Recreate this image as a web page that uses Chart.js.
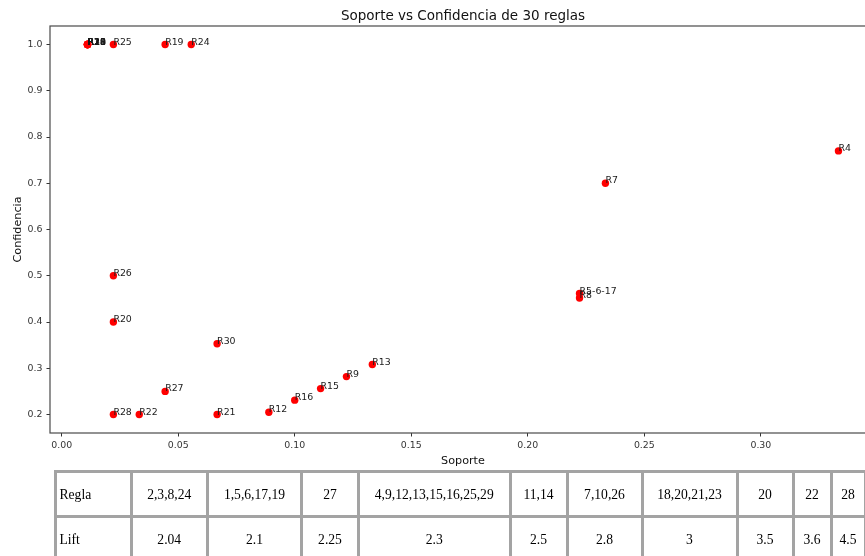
<!DOCTYPE html>
<html>
<head>
<meta charset="utf-8">
<script src="https://cdn.jsdelivr.net/npm/chart.js@4/dist/chart.umd.min.js"></script>
<style>
  html, body { margin: 0; padding: 0; background: #fff; overflow: hidden; width: 865px; height: 556px; }
  #wrap { position: relative; width: 865px; height: 556px; overflow: hidden; }
  #chart { position: absolute; left: 0; top: 0; }
  .cell {
    position: absolute; box-sizing: border-box;
    border: 3px solid #a3a3a3;
    font-family: "Liberation Serif", "Times New Roman", serif;
    font-size: 13.6px; color: #000;
    display: flex; align-items: center; justify-content: center;
    padding-top: 3px;
    white-space: nowrap;
  }
  .cell.head { justify-content: flex-start; padding-left: 3px; }
</style>
</head>
<body>
<div id="wrap">
  <canvas id="chart" width="880" height="470"></canvas>
  <div id="table"></div>
</div>
<script>
// Rules: support (x) and confidence (y), with the label written next to each point
const ruleLabels = [
  'R1', 'R2', 'R3', 'R10', 'R11', 'R14', 'R18', 'R23', 'R29',
  'R25', 'R19', 'R24', 'R26', 'R20', 'R30', 'R27', 'R28', 'R22', 'R21',
  'R12', 'R16', 'R15', 'R9', 'R13', 'R5-6-17', 'R8', 'R7', 'R4'
];
const support = [
  0.0111, 0.0111, 0.0111, 0.0111, 0.0111, 0.0111, 0.0111, 0.0111, 0.0111,
  0.0222, 0.0444, 0.0556, 0.0222, 0.0222, 0.0667, 0.0444, 0.0222, 0.0333, 0.0667,
  0.0889, 0.1000, 0.1111, 0.1222, 0.1333, 0.2222, 0.2222, 0.2333, 0.3333
];
const confidence = [
  1.0, 1.0, 1.0, 1.0, 1.0, 1.0, 1.0, 1.0, 1.0,
  1.0, 1.0, 1.0, 0.50, 0.40, 0.353, 0.25, 0.20, 0.20, 0.20,
  0.205, 0.231, 0.256, 0.282, 0.308, 0.4615, 0.452, 0.70, 0.77
];

// Axis ticks
const xTicks = [0.00, 0.05, 0.10, 0.15, 0.20, 0.25, 0.30];
const yTicks = [0.2, 0.3, 0.4, 0.5, 0.6, 0.7, 0.8, 0.9, 1.0];

// Lift table
const tableRowNames = ['Regla', 'Lift'];
const ruleGroups = ['2,3,8,24', '1,5,6,17,19', '27', '4,9,12,13,15,16,25,29', '11,14', '7,10,26', '18,20,21,23', '20', '22', '28'];
const liftValues = ['2.04', '2.1', '2.25', '2.3', '2.5', '2.8', '3', '3.5', '3.6', '4.5'];

const points = support.map((s, i) => ({ x: s, y: confidence[i] }));

const DEJAVU = '"DejaVu Sans", Verdana, sans-serif';

// Plot frame, title and per-point labels
const decorations = {
  id: 'decorations',
  beforeDatasetsDraw(chart) {
    const { ctx, chartArea: a } = chart;
    ctx.save();
    ctx.strokeStyle = '#4a4a4a';
    ctx.lineWidth = 1.2;
    ctx.strokeRect(a.left, a.top, a.right - a.left, a.bottom - a.top);
    ctx.restore();
  },
  afterDatasetsDraw(chart) {
    const { ctx, chartArea: a } = chart;
    const meta = chart.getDatasetMeta(0);
    ctx.save();
    ctx.font = '9.4px ' + DEJAVU;
    ctx.fillStyle = '#1a1a1a';
    ctx.textAlign = 'left';
    ctx.textBaseline = 'alphabetic';
    meta.data.forEach((el, i) => {
      ctx.fillText(ruleLabels[i], el.x, el.y);
    });
    ctx.font = '13.5px ' + DEJAVU;
    ctx.fillStyle = '#111';
    ctx.textAlign = 'center';
    ctx.textBaseline = 'middle';
    ctx.fillText('Soporte vs Confidencia de 30 reglas', (a.left + a.right) / 2, 16.5);
    ctx.restore();
  }
};

new Chart(document.getElementById('chart'), {
  type: 'scatter',
  data: {
    datasets: [{
      data: points,
      backgroundColor: '#ff0000',
      borderWidth: 0,
      pointRadius: 3.7,
      pointHoverRadius: 3.7
    }]
  },
  options: {
    responsive: false,
    animation: false,
    devicePixelRatio: 1,
    layout: { padding: { top: 26, right: 4, left: 0, bottom: 0 } },
    plugins: { legend: { display: false }, tooltip: { enabled: false }, title: { display: false } },
    scales: {
      x: {
        type: 'linear',
        min: -0.005,
        max: 0.3494,
        afterBuildTicks: s => { s.ticks = xTicks.map(v => ({ value: v })); },
        afterFit: s => { s.height = 37; },
        border: { display: false },
        grid: { display: true, drawOnChartArea: false, drawTicks: true, tickLength: 3.5, color: '#333', lineWidth: 1 },
        ticks: {
          padding: 3.5,
          color: '#333',
          font: { family: DEJAVU, size: 9.4 },
          maxRotation: 0,
          callback: v => Number(v).toFixed(2)
        },
        title: {
          display: true,
          text: 'Soporte',
          color: '#111',
          font: { family: DEJAVU, size: 11.2 },
          padding: { top: 0, bottom: 2 }
        }
      },
      y: {
        type: 'linear',
        min: 0.16,
        max: 1.04,
        afterBuildTicks: s => { s.ticks = yTicks.map(v => ({ value: v })); },
        afterFit: s => { s.width = 50; },
        border: { display: false },
        grid: { display: true, drawOnChartArea: false, drawTicks: true, tickLength: 3.5, color: '#333', lineWidth: 1 },
        ticks: {
          padding: 4,
          color: '#333',
          font: { family: DEJAVU, size: 9.4 },
          callback: v => Number(v).toFixed(1)
        },
        title: {
          display: true,
          text: 'Confidencia',
          color: '#111',
          font: { family: DEJAVU, size: 11.2 },
          padding: { top: 11, bottom: 0 }
        }
      }
    }
  },
  plugins: [decorations]
});

// Lift table below the plot
const colEdges = [55, 131, 207.5, 301.5, 358.5, 510, 567, 642, 737, 793, 831, 865];
const rowEdges = [471, 516, 561];
const tableEl = document.getElementById('table');
const tableRows = [[tableRowNames[0], ...ruleGroups], [tableRowNames[1], ...liftValues]];
tableRows.forEach((row, r) => {
  row.forEach((txt, c) => {
    const d = document.createElement('div');
    d.className = 'cell' + (c === 0 ? ' head' : '');
    d.style.left = (colEdges[c] - 1.5) + 'px';
    d.style.top = (rowEdges[r] - 1.5) + 'px';
    d.style.width = (colEdges[c + 1] - colEdges[c] + 3) + 'px';
    d.style.height = (rowEdges[r + 1] - rowEdges[r] + 3) + 'px';
    d.textContent = txt;
    tableEl.appendChild(d);
  });
});
</script>
</body>
</html>
